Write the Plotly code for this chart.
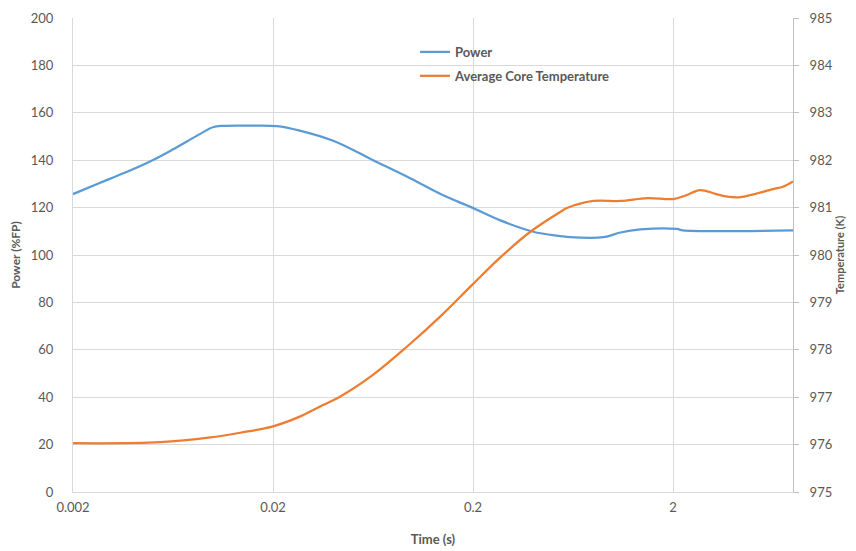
import plotly.graph_objects as go
import math

# ---- data ----
power_time = [0.002, 0.0027, 0.0037, 0.005, 0.0063, 0.0086, 0.010, 0.0112, 0.0153,
              0.0209, 0.0272, 0.040, 0.063, 0.097, 0.141, 0.198, 0.274, 0.40, 0.547,
              0.61, 0.899, 1.09, 1.37, 2.09, 2.24, 7.96]
power_vals = [125.7, 130.3, 135.0, 140.0, 144.5, 151.0, 153.9, 154.5, 154.6,
              154.4, 152.5, 148.2, 140.1, 132.4, 125.3, 120.0, 114.6, 109.8, 108.0,
              107.5, 107.5, 109.5, 110.8, 111.0, 110.4, 110.4]

temp_time = [0.002, 0.00545, 0.0097, 0.0137, 0.0198, 0.0272, 0.0342, 0.0432, 0.0632,
             0.0937, 0.137, 0.198, 0.274, 0.387, 0.547, 0.59, 0.80, 1.09, 1.49,
             2.0, 2.29, 2.73, 3.26, 3.74, 4.34, 6.33, 7.1, 7.96]
temp_vals = [976.03, 976.05, 976.15, 976.25, 976.38, 976.59, 976.80, 977.01, 977.47,
             978.07, 978.70, 979.37, 979.95, 980.49, 980.91, 980.99, 981.14, 981.14, 981.20,
             981.18, 981.25, 981.37, 981.29, 981.23, 981.22, 981.39, 981.44, 981.55]

x_tickvals = [0.002, 0.02, 0.2, 2]
x_ticktext = ["0.002", "0.02", "0.2", "2"]

FONT = "Lato"
GRID = "#d9d9d9"
TXT = "#595959"

fig = go.Figure()
fig.add_trace(go.Scatter(x=power_time, y=power_vals, name="<b>Power</b>", mode="lines",
                         line=dict(color="#5B9BD5", width=2.25, shape="spline", smoothing=1.0),
                         legendgroup="a"))
fig.add_trace(go.Scatter(x=temp_time, y=temp_vals, name="<b>Average Core Temperature</b>", mode="lines",
                         line=dict(color="#ED7D31", width=2.25, shape="spline", smoothing=1.0),
                         yaxis="y2", legendgroup="b"))

# page body has an 8px default margin, so the figure is offset by (8, 8)
fig.update_layout(
    width=848, height=543,
    margin=dict(l=65, r=63, t=10, b=59, autoexpand=False),
    paper_bgcolor="white", plot_bgcolor="white",
    font=dict(family=FONT, size=13, color=TXT),
    xaxis=dict(type="log", range=[math.log10(0.002), math.log10(7.96)],
               tickvals=x_tickvals, ticktext=x_ticktext, automargin=False,
               showgrid=True, gridcolor=GRID, gridwidth=1,
               showline=True, linecolor=GRID, linewidth=1, ticks="", ticklabelstandoff=3,
               title=dict(text="<b>Time (s)</b>", font=dict(size=13, color=TXT), standoff=21),
               tickfont=dict(size=13, color=TXT)),
    yaxis=dict(range=[0, 200], dtick=20, showgrid=True, gridcolor=GRID, gridwidth=1,
               showline=True, linecolor=GRID, ticks="", zeroline=False, automargin=False,
               ticklabelstandoff=16,
               title=dict(text="<b>Power (%FP)</b>", font=dict(size=12, color=TXT), standoff=7),
               tickfont=dict(size=13, color=TXT)),
    yaxis2=dict(range=[975, 985], dtick=1, overlaying="y", side="right", showgrid=False,
                showline=True, linecolor="#bfbfbf", ticks="outside", ticklen=5, tickcolor="#bfbfbf",
                zeroline=False, automargin=False, ticklabelstandoff=8,
                title=dict(text="<b>Temperature (K)</b>", font=dict(size=11, color=TXT), standoff=4),
                tickfont=dict(size=13, color=TXT)),
    legend=dict(x=0.475, y=0.96, xanchor="left", yanchor="top", bgcolor="rgba(0,0,0,0)",
                font=dict(size=13, color=TXT, family=FONT), traceorder="grouped", tracegroupgap=4),
    showlegend=True,
)

fig.write_html("out.html")
